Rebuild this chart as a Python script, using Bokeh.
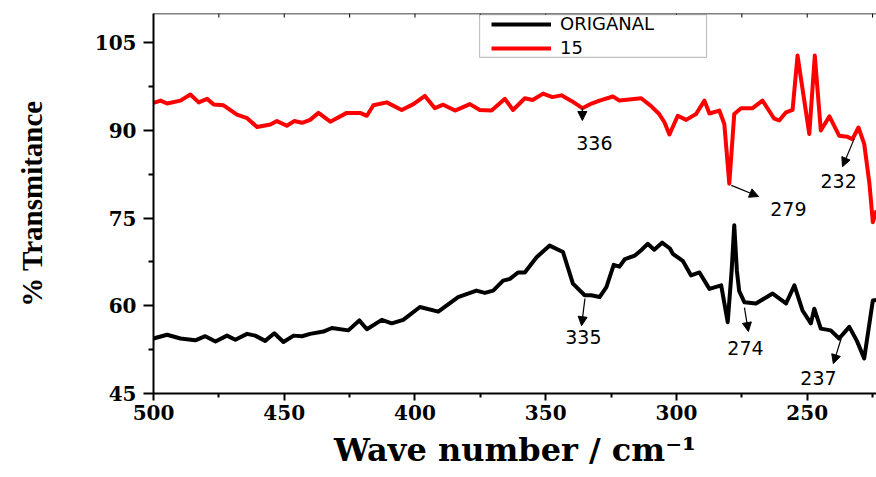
from bokeh.plotting import figure
from bokeh.models import (Range1d, FixedTicker, LinearAxis, Span,
                          Label, Arrow, NormalHead, Legend, LegendItem, BoxAnnotation)
from bokeh.embed import file_html
from bokeh.resources import INLINE

# Original sample: wavenumber (cm-1) and % transmittance
wn_orig = [500, 494.8, 489.7, 484.0, 480.2, 476.3, 471.9, 468.7, 464.2, 461.1,
           457.3, 453.8, 450.3, 446.4, 443.2, 440.1, 435.0, 431.8, 425.5, 421.3,
           418.4, 412.7, 408.9, 404.5, 398.1, 391.1, 383.5, 376.5, 373.3, 370.1,
           366.3, 363.7, 360.6, 358.0, 353.5, 348.5, 343.4, 339.6, 335.1, 332.6,
           329.4, 326.8, 324.0, 321.8, 319.7, 315.9, 313.5, 311.0, 308.5, 305.5,
           302.5, 301.4, 297.6, 294.4, 291.2, 287.4, 282.9, 280.4, 278.9, 277.9,
           276.9, 276.0, 274.0, 269.6, 263.2, 258.1, 254.9, 251.8, 248.6, 247.3,
           244.8, 241.0, 237.8, 233.9, 231.0, 228.2, 224.9, 223.5]
t_orig = [54.4, 55.05, 54.4, 54.1, 54.8, 53.9, 54.9, 54.2, 55.2, 54.9,
          54.0, 55.3, 53.8, 54.9, 54.8, 55.2, 55.6, 56.2, 55.8, 57.5,
          56.0, 57.6, 57.0, 57.6, 59.8, 59.0, 61.5, 62.6, 62.2, 62.6,
          64.3, 64.6, 65.7, 65.7, 68.3, 70.3, 69.2, 63.8, 61.8, 61.8,
          61.5, 63.2, 67.0, 66.7, 68.0, 68.6, 69.5, 70.6, 69.6, 70.8,
          69.8, 68.9, 67.7, 65.2, 65.7, 62.9, 63.5, 57.2, 66.0, 73.8,
          66.0, 62.5, 60.6, 60.4, 62.1, 60.4, 63.5, 59.2, 57.0, 59.5,
          56.1, 55.8, 54.4, 56.4, 54.0, 51.0, 60.9, 61.0]

# Sample 15: wavenumber (cm-1) and % transmittance
wn_15 = [500, 497.3, 494.8, 489.7, 485.9, 482.7, 479.5, 477.0, 473.2, 468.1,
         464.2, 460.4, 455.3, 452.8, 449.0, 446.2, 443.2, 440.1, 436.9, 432.4,
         426.1, 421.0, 418.4, 415.9, 410.8, 405.1, 400.6, 396.2, 392.4, 389.2,
         384.7, 379.0, 375.2, 370.7, 365.6, 362.5, 358.0, 355.0, 351.0, 347.5,
         344.0, 340.0, 336.0, 332.5, 329.4, 324.3, 321.8, 313.5, 309.8, 306.6,
         304.6, 302.7, 299.5, 296.3, 292.5, 289.3, 287.4, 283.6, 281.7, 279.8,
         277.9, 275.3, 270.9, 267.1, 262.6, 260.7, 258.1, 255.6, 253.7, 249.2,
         247.1, 244.8, 241.5, 237.8, 234.6, 232.7, 230.4, 228.2, 226.2, 224.9,
         223.5]
t_15 = [94.7, 95.1, 94.6, 95.1, 96.15, 94.8, 95.4, 94.45, 94.3, 92.7,
        92.1, 90.6, 91.0, 91.6, 90.8, 91.6, 91.3, 91.8, 93.0, 91.5,
        93.0, 93.0, 92.5, 94.3, 94.8, 93.5, 94.5, 95.9, 93.8, 94.4,
        93.4, 94.5, 93.5, 93.4, 95.4, 93.5, 95.5, 95.2, 96.3, 95.7,
        96.0, 95.0, 93.8, 94.6, 95.1, 95.8, 95.1, 95.5, 94.2, 92.8,
        91.4, 89.3, 92.5, 91.8, 92.8, 95.1, 92.9, 93.4, 91.1, 80.9,
        92.8, 93.8, 93.8, 95.1, 92.0, 91.7, 93.1, 93.5, 102.8, 89.4,
        102.8, 90.0, 92.4, 89.1, 88.9, 88.5, 90.5, 87.7, 80.9, 74.3,
        76.3]

series_names = ["ORIGANAL", "15"]

# Band labels and where their arrows/texts sit
band_labels = ["336", "279", "232", "335", "274", "237"]
arrow_tail_t = [93.8, 80.6, 88.6, 61.25, 59.7, 54.4]
arrow_head = [(336.0, 91.7), (268.6, 78.7), (236.5, 83.8),
              (336.3, 56.6), (272.5, 55.6), (240.0, 50.1)]
label_pos = [(331.4, 87.9), (257.2, 76.6), (238.0, 81.4),
             (335.6, 54.6), (273.6, 52.7), (245.7, 47.7)]

x_major = [500, 450, 400, 350, 300, 250]
x_minor = [475, 425, 375, 325, 275, 225]
top_ticks = [500, 475, 450, 425, 400, 375, 350, 325, 300, 275, 250, 225]
y_major = [45, 60, 75, 90, 105]
y_minor = [52.5, 67.5, 82.5, 97.5]

SERIF = "DejaVu Serif"
SANS = "DejaVu Sans"
Y_TOP = 110

p = figure(width=876, height=477, output_backend="svg", toolbar_location=None,
           x_range=Range1d(500, 223.5), y_range=Range1d(45, Y_TOP),
           min_border_left=153, min_border_right=0, min_border_top=13,
           min_border_bottom=84, x_axis_location=None, y_axis_location=None)
p.grid.visible = False
p.outline_line_color = None
p.background_fill_color = "white"
p.border_fill_color = "white"

# bottom axis
xa = LinearAxis(ticker=FixedTicker(ticks=x_major, minor_ticks=x_minor))
# left axis
ya = LinearAxis(ticker=FixedTicker(ticks=y_major, minor_ticks=y_minor))
for ax, out_major, out_minor, standoff in ((xa, 7, 4, 4), (ya, 10, 5, 7)):
    ax.axis_line_width = 2
    ax.major_tick_line_width = 2
    ax.minor_tick_line_width = 2
    ax.major_tick_in = 0
    ax.major_tick_out = out_major
    ax.minor_tick_in = 0
    ax.minor_tick_out = out_minor
    ax.major_label_standoff = standoff
    ax.major_label_text_font = SERIF
    ax.major_label_text_font_style = "bold"
    ax.major_label_text_font_size = "20px"
    ax.major_label_text_color = "black"
    ax.axis_line_color = "black"
    ax.major_tick_line_color = "black"
    ax.minor_tick_line_color = "black"
    ax.axis_label_text_color = "black"
    ax.axis_label_text_font_style = "bold"

ya.axis_label = "% Transmitance"
ya.axis_label_text_font = "Liberation Serif"
ya.axis_label_text_font_size = "29px"
ya.axis_label_standoff = 44

xa.axis_label = "Wave number / cm\u207b\u00b9"
xa.axis_label_text_font = SERIF
xa.axis_label_text_font_size = "32px"
xa.axis_label_standoff = 8

p.add_layout(xa, "below")
p.add_layout(ya, "left")

# top frame line with short inward ticks
p.add_layout(Span(location=Y_TOP, dimension="width", line_color="black", line_width=1.5))
tick_len = 0.7
p.segment(x0=top_ticks, y0=[Y_TOP] * len(top_ticks), x1=top_ticks,
          y1=[Y_TOP - tick_len] * len(top_ticks), line_color="black", line_width=1)

r_orig = p.line(wn_orig, t_orig, line_color="black", line_width=4, line_join="round")
r_15 = p.line(wn_15, t_15, line_color="#ff0000", line_width=4, line_join="round")

# band markers
for lab, tail_t, (hx, hy), (lx, ly) in zip(band_labels, arrow_tail_t, arrow_head, label_pos):
    wn = float(lab)
    p.add_layout(Arrow(x_start=wn, y_start=tail_t, x_end=hx, y_end=hy,
                       line_color="black", line_width=1.2,
                       end=NormalHead(size=9, fill_color="black", line_color="black")))
    p.add_layout(Label(x=lx, y=ly, text=lab, text_align="center", text_baseline="middle",
                       text_font=SANS, text_font_size="19px", text_color="black"))

# legend frame
p.add_layout(BoxAnnotation(left=375.3, right=288.5, top=109.8, bottom=102.5,
                           fill_color="white", fill_alpha=1.0,
                           line_color="#333333", line_width=1.2))
legend = Legend(items=[LegendItem(label=series_names[0], renderers=[r_orig]),
                       LegendItem(label=series_names[1], renderers=[r_15])],
                location=(338, 335), padding=0, spacing=3, margin=0,
                glyph_width=60, glyph_height=20, label_height=20, label_standoff=9,
                label_text_font=SANS, label_text_font_size="18px",
                label_text_color="black",
                background_fill_alpha=0, border_line_color=None)
p.add_layout(legend, "center")

open("out.html", "w").write(file_html(p, INLINE))
